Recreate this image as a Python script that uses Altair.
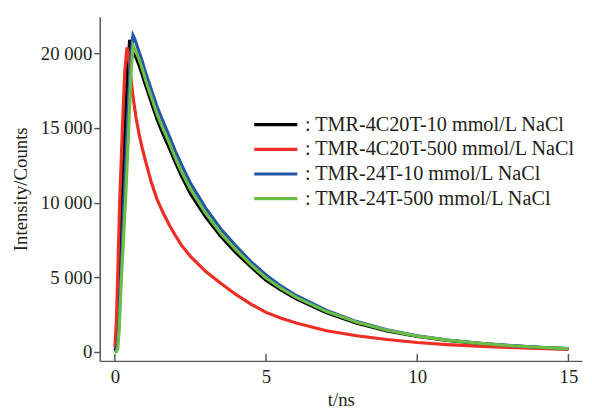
import altair as alt
import pandas as pd

# ---- data ----
series_names = [
    "TMR-4C20T-10 mmol/L NaCl",
    "TMR-4C20T-500 mmol/L NaCl",
    "TMR-24T-10 mmol/L NaCl",
    "TMR-24T-500 mmol/L NaCl",
]
colors = ["#000000", "#ee2d24", "#2456a6", "#6cbd45"]

t_black = [0, 0.05, 0.1, 0.17, 0.24, 0.33, 0.42, 0.49, 0.55, 0.6, 0.7, 0.8, 0.9, 1.0, 1.2, 1.4, 1.6, 1.8,
           2.0, 2.2, 2.5, 3.0, 3.5, 4.0, 4.5, 5.0, 5.5, 6.0, 7.0, 8.0, 9.0, 10, 11, 12, 13, 14, 15]
v_black = [100, 300, 1400, 5500, 10000, 15000, 19000, 20900, 20400, 20000, 19700, 19200, 18600, 17950,
           16750, 15550, 14550, 13650, 12700, 11800, 10600, 9050, 7750, 6650, 5700, 4800, 4130, 3550,
           2620, 1920, 1410, 1040, 770, 570, 420, 305, 215]

t_red = [0, 0.05, 0.1, 0.16, 0.25, 0.33, 0.4, 0.45, 0.5, 0.6, 0.7, 0.8, 0.9, 1.0, 1.2, 1.4, 1.6, 1.8,
         2.0, 2.2, 2.5, 3.0, 3.5, 4.0, 4.5, 5.0, 5.5, 6.0, 7.0, 8.0, 9.0, 10, 11, 12, 13, 14, 15]
v_red = [300, 2000, 5500, 10000, 15000, 18800, 20400, 20000, 18900, 17100, 15700, 14600, 13700, 12900,
         11400, 10200, 9300, 8500, 7800, 7150, 6400, 5400, 4600, 3850, 3200, 2650, 2250, 1930,
         1420, 1080, 830, 630, 490, 390, 300, 230, 170]

t_blue = [0, 0.05, 0.12, 0.2, 0.3, 0.42, 0.52, 0.6, 0.65, 0.7, 0.8, 0.9, 1.0, 1.2, 1.4, 1.6, 1.8,
          2.0, 2.2, 2.5, 3.0, 3.5, 4.0, 4.5, 5.0, 5.5, 6.0, 7.0, 8.0, 9.0, 10, 11, 12, 13, 14, 15]
v_blue = [0, 100, 1200, 5000, 10000, 15500, 19500, 21200, 21000, 20700, 20100, 19500, 18800, 17600,
          16400, 15400, 14450, 13450, 12550, 11300, 9650, 8250, 7100, 6050, 5150, 4400, 3780,
          2780, 2030, 1480, 1080, 800, 595, 435, 315, 225]

t_green = [0, 0.05, 0.1, 0.14, 0.22, 0.35, 0.45, 0.53, 0.6, 0.7, 0.8, 0.9, 1.0, 1.2, 1.4, 1.6, 1.8,
           2.0, 2.2, 2.5, 3.0, 3.5, 4.0, 4.5, 5.0, 5.5, 6.0, 7.0, 8.0, 9.0, 10, 11, 12, 13, 14, 15]
v_green = [0, 0, 300, 1400, 5000, 10000, 14500, 18500, 20500, 20100, 19600, 19000, 18300, 17100,
           15900, 14900, 14000, 13000, 12100, 10900, 9300, 7950, 6850, 5850, 4950, 4250, 3650,
           2700, 1980, 1450, 1060, 790, 590, 430, 310, 220]

x_ticks = [0, 5, 10, 15]
y_ticks = [0, 5000, 10000, 15000, 20000]

# ---- build table ----
rows = []
for name, ts, vs in zip(series_names, [t_black, t_red, t_blue, t_green],
                        [v_black, v_red, v_blue, v_green]):
    for i, (t, v) in enumerate(zip(ts, vs)):
        rows.append({"series": name, "t": t, "v": v, "i": i})
df = pd.DataFrame(rows)
tick_df = pd.DataFrame({"t": x_ticks})

FONT = "Liberation Serif"
TXT = "#231f20"
AX = "#555555"

xscale = alt.Scale(domain=[-0.5, 15.45], nice=False, zero=False)
yscale = alt.Scale(domain=[-600, 22450], nice=False, zero=False)

lines = alt.Chart(df).mark_line(strokeWidth=3.2, clip=True).encode(
    x=alt.X("t:Q", scale=xscale,
            axis=alt.Axis(values=x_ticks, title="t/ns", ticks=False, grid=False,
                          domainColor=AX, domainWidth=1.5,
                          labelFont=FONT, labelFontSize=19, labelColor=TXT, labelPadding=7,
                          titleFont=FONT, titleFontSize=19, titleColor=TXT,
                          titleFontWeight="normal", titlePadding=4)),
    y=alt.Y("v:Q", scale=yscale,
            axis=alt.Axis(values=y_ticks, title="Intensity/Counts", grid=False,
                          domainColor=AX, domainWidth=1.5, tickColor=AX, tickWidth=1.5,
                          tickSize=6,
                          labelExpr="replace(format(datum.value, ','), ',', ' ')",
                          labelFont=FONT, labelFontSize=19, labelColor=TXT, labelPadding=2,
                          titleFont=FONT, titleFontSize=19, titleColor=TXT,
                          titleFontWeight="normal", titlePadding=10)),
    color=alt.Color("series:N",
                    scale=alt.Scale(domain=series_names, range=colors),
                    legend=alt.Legend(title=None, orient="none", legendX=167, legendY=98,
                                      padding=0,
                                      symbolType="M-2.3,0H2.3", symbolSize=361,
                                      symbolStrokeWidth=3.2,
                                      labelExpr="': ' + datum.label",
                                      labelLimit=0,
                                      labelFont=FONT, labelFontSize=20.5, labelColor=TXT,
                                      labelOffset=18, rowPadding=3)),
    order=alt.Order("i:Q"),
)

xticks = alt.Chart(tick_df).mark_rule(color=AX, strokeWidth=1.5).encode(
    x=alt.X("t:Q", scale=xscale),
    y=alt.value(349),
    y2=alt.value(342),
)

chart = alt.layer(lines, xticks).properties(
    width=489, height=349,
    autosize=alt.AutoSizeParams(type="none"),
    padding={"left": 93, "top": 6, "right": 2, "bottom": 46},
).configure_view(stroke=None)

chart.save("out.html", embed_options={"renderer": "svg", "actions": False})
